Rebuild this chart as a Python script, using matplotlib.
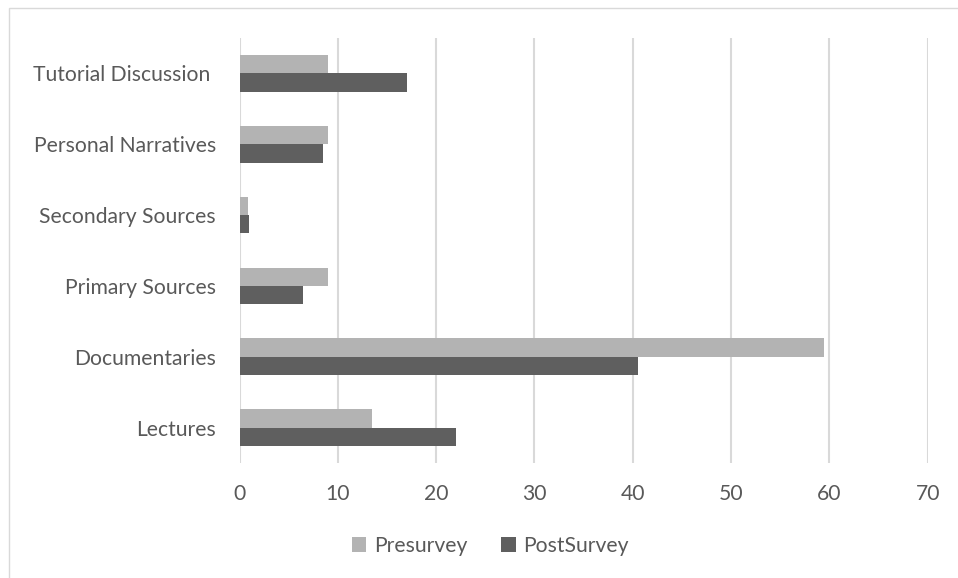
import matplotlib
matplotlib.use('Agg')
import matplotlib.pyplot as plt
import numpy as np
from matplotlib.patches import Rectangle

# values (bottom to top)
categories = ['Lectures', 'Documentaries', 'Primary Sources',
              'Secondary Sources', 'Personal Narratives', 'Tutorial Discussion ']
presurvey = [13.5, 59.5, 9, 0.9, 9, 9]
postsurvey = [22, 40.5, 6.5, 1.0, 8.5, 17]
x_ticks = [0, 10, 20, 30, 40, 50, 60, 70]

plt.rcParams['font.family'] = ['Lato', 'DejaVu Sans']

W, H = 958, 578
fig = plt.figure(figsize=(W / 100, H / 100), dpi=100)
ax = fig.add_axes([239.5 / W, 1 - 463 / H, (927.7 - 239.5) / W, (463 - 38) / H])

y = np.arange(len(categories))
h = 0.26
ax.barh(y + h / 2, presurvey, height=h, color='#b3b3b3', label='Presurvey', zorder=3)
ax.barh(y - h / 2, postsurvey, height=h, color='#5f5f5f', label='PostSurvey', zorder=3)

ax.set_xlim(0, 70)
ax.set_ylim(-0.5, len(categories) - 0.5)
ax.set_xticks(x_ticks)
ax.set_yticks(y)
ax.set_yticklabels(categories)
ax.tick_params(axis='both', length=0, labelsize=15.2, colors='#595959')
ax.tick_params(axis='y', pad=17)
ax.tick_params(axis='x', pad=15)
for s in ax.spines.values():
    s.set_visible(False)
ax.grid(axis='x', color='#d9d9d9', linewidth=1.5, zorder=0)

ax.legend(loc='center', bbox_to_anchor=(490 / W, 1 - 546 / H), bbox_transform=fig.transFigure,
          ncol=2, frameon=False, fontsize=15.2, labelcolor='#595959',
          handlelength=0.7, handleheight=0.7, handletextpad=0.35, columnspacing=1.6)

# outer chart border
fig.patches.append(Rectangle((9 / W, -0.1), 1.2, 1 - 8 / H + 0.1, transform=fig.transFigure,
                             fill=False, edgecolor='#d9d9d9', linewidth=1))

fig.savefig('out.png', dpi=100)
